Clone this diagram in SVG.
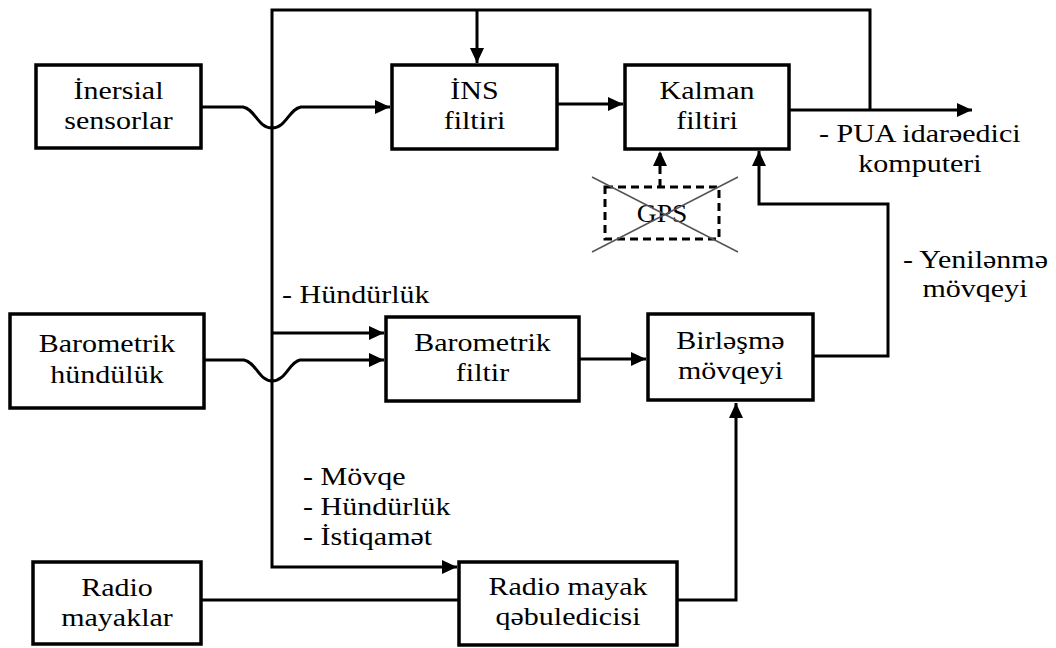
<svg xmlns="http://www.w3.org/2000/svg" width="1056" height="648" viewBox="0 0 1056 648">
<style>
.box{fill:#fff;stroke:#000;stroke-width:3.5}
.w{fill:none;stroke:#000;stroke-width:3}
.dash{fill:none;stroke:#000;stroke-width:3;stroke-dasharray:8 5}
.x{fill:none;stroke:#555;stroke-width:1.5}
.c{text-anchor:middle}
</style>
<defs>
<marker id="ah" markerUnits="userSpaceOnUse" markerWidth="16" markerHeight="14" refX="15" refY="7" orient="auto">
<path d="M0,0 L15,7 L0,14 z" fill="#000"/>
</marker>
</defs>
<g id="connectors">
<path class="w" d="M870,110 V10 H272 V567 H457" marker-end="url(#ah)"/>
<path class="w" d="M477,10 V63" marker-end="url(#ah)"/>
<path class="w" d="M201,107 H243 C255,109 258,128 272,128 C286,128 289,109 301,107 H390" marker-end="url(#ah)"/>
<path class="w" d="M557,104 H623" marker-end="url(#ah)"/>
<path class="w" d="M789,110 H972" marker-end="url(#ah)"/>
<path class="dash" d="M660,187 V151" marker-end="url(#ah)"/>
<path class="w" d="M813,356 H888 V204 H759 V151" marker-end="url(#ah)"/>
<path class="w" d="M272,333 H384" marker-end="url(#ah)"/>
<path class="w" d="M204,360 H244 C256,362 259,381 272,381 C286,381 289,362 300,360 H384" marker-end="url(#ah)"/>
<path class="w" d="M579,359 H646" marker-end="url(#ah)"/>
<path class="w" d="M201,600 H459"/>
<path class="w" d="M677,600 H736 V403" marker-end="url(#ah)"/>
</g>
<g font-family="'Liberation Serif', 'Times New Roman', 'DejaVu Serif', serif" font-size="25" fill="#000">
<g id="inersial">
<rect class="box" x="36" y="65" width="165" height="83"/>
<text class="c" transform="translate(118.5,99) scale(1.2,1)">İnersial</text>
<text class="c" transform="translate(118.5,129) scale(1.2,1)">sensorlar</text>
</g>
<g id="ins">
<rect class="box" x="392" y="65" width="165" height="84"/>
<text class="c" transform="translate(474.5,99) scale(1.2,1)">İNS</text>
<text class="c" transform="translate(474.5,129) scale(1.2,1)">filtiri</text>
</g>
<g id="kalman">
<rect class="box" x="625" y="65" width="164" height="84"/>
<text class="c" transform="translate(707,99) scale(1.2,1)">Kalman</text>
<text class="c" transform="translate(707,129) scale(1.2,1)">filtiri</text>
</g>
<g id="gps">
<rect class="dash" x="605" y="187" width="114" height="52"/>
<text class="c" transform="translate(662,222) scale(1.1,1)">GPS</text>
<line class="x" x1="592" y1="177" x2="738" y2="252"/>
<line class="x" x1="592" y1="252" x2="738" y2="177"/>
</g>
<g id="barometrik-hundulik">
<rect class="box" x="10" y="314" width="194" height="94"/>
<text class="c" transform="translate(107,352) scale(1.2,1)">Barometrik</text>
<text class="c" transform="translate(107,383) scale(1.2,1)">hündülük</text>
</g>
<g id="barometrik-filtir">
<rect class="box" x="386" y="317" width="193" height="84"/>
<text class="c" transform="translate(482.5,351) scale(1.2,1)">Barometrik</text>
<text class="c" transform="translate(482.5,381) scale(1.2,1)">filtir</text>
</g>
<g id="birlesme">
<rect class="box" x="648" y="314" width="165" height="86"/>
<text class="c" transform="translate(730.5,349) scale(1.2,1)">Birləşmə</text>
<text class="c" transform="translate(730.5,379) scale(1.2,1)">mövqeyi</text>
</g>
<g id="radio-mayaklar">
<rect class="box" x="33" y="562" width="168" height="82"/>
<text class="c" transform="translate(117,596) scale(1.2,1)">Radio</text>
<text class="c" transform="translate(117,626) scale(1.2,1)">mayaklar</text>
</g>
<g id="radio-qebuledici">
<rect class="box" x="459" y="562" width="218" height="83"/>
<text class="c" transform="translate(568,595) scale(1.2,1)">Radio mayak</text>
<text class="c" transform="translate(568,625) scale(1.2,1)">qəbuledicisi</text>
</g>
<g id="labels">
<text transform="translate(282,303) scale(1.2,1)">- Hündürlük</text>
<text transform="translate(303,485) scale(1.2,1)">- Mövqe</text>
<text transform="translate(303,515) scale(1.2,1)">- Hündürlük</text>
<text transform="translate(303,545) scale(1.2,1)">- İstiqamət</text>
<text transform="translate(819,142) scale(1.2,1)">- PUA idarəedici</text>
<text class="c" transform="translate(920,172) scale(1.2,1)">komputeri</text>
<text transform="translate(903,268) scale(1.2,1)">- Yenilənmə</text>
<text class="c" transform="translate(975,297) scale(1.2,1)">mövqeyi</text>
</g>
</g>
</svg>
